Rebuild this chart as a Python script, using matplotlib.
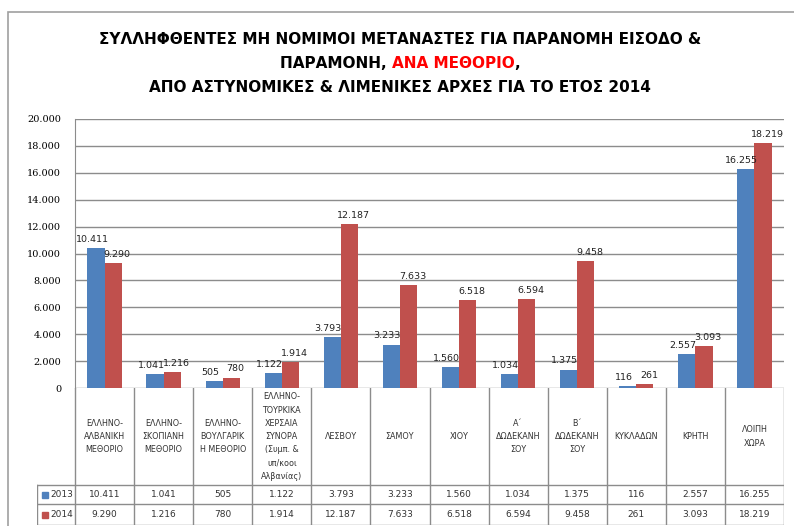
import matplotlib
matplotlib.use("Agg")
import matplotlib.pyplot as plt
from matplotlib.patches import Rectangle
import numpy as np

categories = [
    "ΕΛΛΗΝΟ-\nΑΛΒΑΝΙΚΗ\nΜΕΘΟΡΙΟ",
    "ΕΛΛΗΝΟ-\nΣΚΟΠΙΑΝΗ\nΜΕΘΟΡΙΟ",
    "ΕΛΛΗΝΟ-\nΒΟΥΛΓΑΡΙΚ\nΗ ΜΕΘΟΡΙΟ",
    "ΕΛΛΗΝΟ-\nΤΟΥΡΚΙΚΑ\nΧΕΡΣΑΙΑ\nΣΥΝΟΡΑ\n(Συμπ. &\nυπ/κοοι\nΑλβανίας)",
    "ΛΕΣΒΟΥ",
    "ΣΑΜΟΥ",
    "ΧΙΟΥ",
    "Α΄\nΔΩΔΕΚΑΝΗ\nΣΟΥ",
    "Β΄\nΔΩΔΕΚΑΝΗ\nΣΟΥ",
    "ΚΥΚΛΑΔΩΝ",
    "ΚΡΗΤΗ",
    "ΛΟΙΠΗ\nΧΩΡΑ",
]
vals_2013 = [10411, 1041, 505, 1122, 3793, 3233, 1560, 1034, 1375, 116, 2557, 16255]
vals_2014 = [9290, 1216, 780, 1914, 12187, 7633, 6518, 6594, 9458, 261, 3093, 18219]
series_names = ["2013", "2014"]
yticks = list(range(0, 20001, 2000))

BLUE = "#4F81BD"
RED = "#C0504D"
GRID = "#8C8C8C"

def fmt(v):
    return "{:,}".format(v).replace(",", ".")

W, H = 794, 526
fig = plt.figure(figsize=(W / 100, H / 100), dpi=100)

def px(x0, y0, x1, y1):
    # pixel box (top-left origin) -> figure fraction
    return [x0 / W, 1 - y1 / H, (x1 - x0) / W, (y1 - y0) / H]

# outer frame
fig.patches.append(Rectangle((8 / W, -0.1), 1.1, 1 - 12 / H + 0.1,
                             transform=fig.transFigure, fill=False,
                             edgecolor="#A0A0A0", lw=1.2))

# title
tfont = dict(fontsize=11, fontweight="bold", family=["Liberation Sans Narrow", "DejaVu Sans"])
fig.text(400 / W, 1 - 40 / H, "ΣΥΛΛΗΦΘΕΝΤΕΣ ΜΗ ΝΟΜΙΜΟΙ ΜΕΤΑΝΑΣΤΕΣ ΓΙΑ ΠΑΡΑΝΟΜΗ ΕΙΣΟΔΟ &",
         ha="center", va="center", **tfont)
fig.text(400 / W, 1 - 88 / H, "ΑΠΟ ΑΣΤΥΝΟΜΙΚΕΣ & ΛΙΜΕΝΙΚΕΣ ΑΡΧΕΣ ΓΙΑ ΤΟ ΕΤΟΣ 2014",
         ha="center", va="center", **tfont)
parts = [("ΠΑΡΑΜΟΝΗ, ", "black"), ("ΑΝΑ ΜΕΘΟΡΙΟ", "#FF0000"), (",", "black")]
renderer = fig.canvas.get_renderer()
texts = [fig.text(0, 1 - 64 / H, s, color=c, ha="left", va="center", **tfont) for s, c in parts]
widths = [t.get_window_extent(renderer).width for t in texts]
x = 400 - sum(widths) / 2
for t, w in zip(texts, widths):
    t.set_x(x / W)
    x += w

# chart
n = len(categories)
X0, X1, YT, Y0 = 75, 784, 119, 388
ax = fig.add_axes(px(X0, YT, X1, Y0))
unit = (X1 - X0) / n
xs = np.arange(n)
bw = 0.29
ax.bar(xs - bw / 2, vals_2013, bw, color=BLUE, zorder=3)
ax.bar(xs + bw / 2, vals_2014, bw, color=RED, zorder=3)
sh = 4 / unit
for i in range(n):
    ax.text(xs[i] - bw / 2 - sh, vals_2013[i] + 300, fmt(vals_2013[i]), ha="center", va="bottom",
            fontsize=6.8, color="#222222", zorder=4)
    ax.text(xs[i] + bw / 2 + sh, vals_2014[i] + 300, fmt(vals_2014[i]), ha="center", va="bottom",
            fontsize=6.8, color="#222222", zorder=4)
ax.set_xlim(-0.5, n - 0.5)
ax.set_ylim(0, 20000)
ax.set_yticks(yticks)
ax.set_yticklabels([fmt(v) for v in yticks], fontsize=7, family="DejaVu Serif")
ax.tick_params(axis="y", length=0, pad=10)
ax.set_xticks([])
ax.grid(axis="y", color=GRID, lw=1, zorder=0)
for s in ["top", "right", "bottom"]:
    ax.spines[s].set_visible(False)
ax.spines["left"].set_color(GRID)

# data table below the chart
TL, TB = 37, 525
R1, R2 = 485, 504
tab = fig.add_axes(px(TL, Y0, X1, TB))
tab.set_xlim(-0.5 - (X0 - TL) / unit, n - 0.5)
tab.set_ylim(TB - Y0, 0)
tab.axis("off")
lc = dict(color=GRID, lw=1)
for k in range(n + 1):
    tab.plot([k - 0.5, k - 0.5], [0, TB - Y0], **lc)
left = -0.5 - (X0 - TL) / unit
for yy in [R1, R2, TB]:
    tab.plot([left, n - 0.5], [yy - Y0, yy - Y0], **lc)
tab.plot([left, left], [R1 - Y0, TB - Y0], **lc)
mid_cat = (R1 - Y0) / 2
mid_a = (R1 + R2) / 2 - Y0
mid_b = (R2 + TB) / 2 - Y0
for i in range(n):
    tab.text(i, mid_cat, categories[i], ha="center", va="center", fontsize=5.8,
             color="#333333", linespacing=1.6)
    tab.text(i, mid_a, fmt(vals_2013[i]), ha="center", va="center", fontsize=6.5, color="#333333")
    tab.text(i, mid_b, fmt(vals_2014[i]), ha="center", va="center", fontsize=6.5, color="#333333")
lx = left + 5 / unit
for yy, name, col in [(mid_a, series_names[0], BLUE), (mid_b, series_names[1], RED)]:
    tab.add_patch(Rectangle((lx, yy - 3), 6 / unit, 6, color=col))
    tab.text(lx + 8 / unit, yy, name, ha="left", va="center", fontsize=6.5, color="#333333")

fig.savefig("out.png", dpi=100)
